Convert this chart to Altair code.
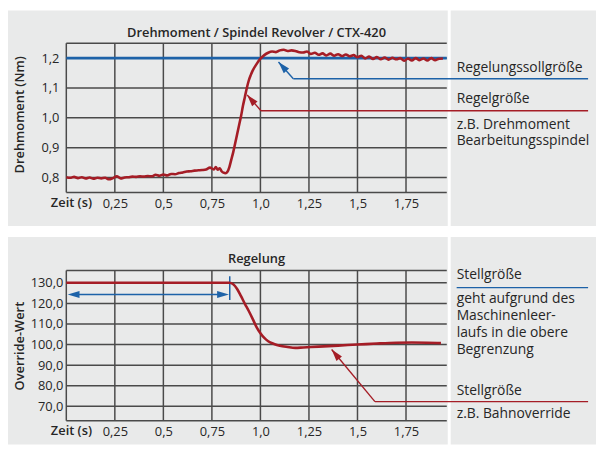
import altair as alt
import pandas as pd

FONT = "Open Sans"
RED = "#a51d26"
BLUE = "#1d62a8"
BG = "#e9eaea"
GRID = "#4a4a4a"
INK = "#262626"

W, H1, H2 = 385, 151, 152
GAP = 79

X_DOMAIN = [0, 1.96]
Y1_DOMAIN = [0.75, 1.25]
Y2_DOMAIN = [63, 136]

# ---------------- data ----------------
x_ticks = [0.25, 0.5, 0.75, 1.0, 1.25, 1.5, 1.75]
x_grid = [0.0] + x_ticks
y1_ticks = [0.8, 0.9, 1.0, 1.1, 1.2]
y1_grid = [0.75] + y1_ticks + [1.25]
y2_ticks = [70, 80, 90, 100, 110, 120, 130]
y2_grid = [63] + y2_ticks + [136]

setpoint = 1.2

t_torque = [
    0.00, 0.02, 0.04, 0.06, 0.08, 0.10, 0.12, 0.14, 0.16, 0.18,
    0.20, 0.22, 0.24, 0.26, 0.28, 0.30, 0.32, 0.34, 0.36, 0.38,
    0.40, 0.42, 0.44, 0.46, 0.48, 0.50, 0.52, 0.54, 0.56, 0.58,
    0.60, 0.62, 0.64, 0.66, 0.68, 0.70, 0.72, 0.74, 0.76, 0.77,
    0.78, 0.79, 0.80, 0.81, 0.82, 0.83, 0.84, 0.85, 0.86, 0.87,
    0.88, 0.89, 0.90, 0.91, 0.92, 0.93, 0.94, 0.95, 0.96, 0.98,
    1.00, 1.02, 1.04, 1.06, 1.08, 1.10, 1.12, 1.14, 1.16, 1.18,
    1.20, 1.22, 1.24, 1.26, 1.28, 1.30, 1.32, 1.34, 1.36, 1.38,
    1.40, 1.42, 1.44, 1.46, 1.48, 1.50, 1.52, 1.54, 1.56, 1.58,
    1.60, 1.62, 1.64, 1.66, 1.68, 1.70, 1.72, 1.74, 1.76, 1.78,
    1.80, 1.82, 1.84, 1.86, 1.88, 1.90, 1.92, 1.94,
]
torque = [
    0.801, 0.799, 0.802, 0.798, 0.801, 0.797, 0.800, 0.796, 0.799, 0.797,
    0.799, 0.794, 0.798, 0.804, 0.797, 0.800, 0.801, 0.803, 0.802, 0.804,
    0.803, 0.805, 0.804, 0.809, 0.806, 0.810, 0.807, 0.812, 0.811, 0.815,
    0.817, 0.820, 0.821, 0.823, 0.824, 0.825, 0.827, 0.833, 0.827, 0.835,
    0.826, 0.831, 0.821, 0.816, 0.814, 0.819, 0.835, 0.860, 0.885, 0.915,
    0.945, 0.975, 1.005, 1.040, 1.070, 1.100, 1.125, 1.143, 1.158, 1.180,
    1.198, 1.210, 1.218, 1.222, 1.220, 1.226, 1.228, 1.224, 1.226, 1.224,
    1.220, 1.219, 1.222, 1.214, 1.218, 1.211, 1.216, 1.209, 1.215, 1.208,
    1.213, 1.207, 1.212, 1.206, 1.210, 1.203, 1.208, 1.199, 1.205, 1.197,
    1.204, 1.196, 1.202, 1.195, 1.201, 1.196, 1.200, 1.191, 1.199, 1.192,
    1.200, 1.193, 1.199, 1.192, 1.200, 1.193, 1.198, 1.199,
]

t_override = [
    0.00, 0.84, 0.86, 0.88, 0.90, 0.92, 0.94, 0.96, 0.98, 1.00,
    1.02, 1.04, 1.07, 1.10, 1.14, 1.18, 1.22, 1.30, 1.40, 1.50,
    1.60, 1.70, 1.78, 1.86, 1.93,
]
override = [
    130.0, 130.0, 129.3, 127.0, 123.5, 119.8, 116.3, 112.5, 108.5, 105.5,
    103.2, 101.6, 100.3, 99.4, 98.8, 98.4, 98.6, 99.0, 99.5, 100.0,
    100.5, 100.9, 101.0, 100.9, 100.7,
]

# blue interval arrow in the lower chart (time span at upper limit)
interval_start = 0.007
interval_end = 0.838
interval_y = 124.3
interval_tick = [121.6, 133.2]

one = pd.DataFrame({"a": [0]})

xs = alt.Scale(domain=X_DOMAIN, nice=False, zero=False)
y1s = alt.Scale(domain=Y1_DOMAIN, nice=False, zero=False)
y2s = alt.Scale(domain=Y2_DOMAIN, nice=False, zero=False)

x_axis = alt.Axis(
    values=x_ticks, title=None, grid=False, domain=False, ticks=False, tickSize=0,
    labelPadding=15, labelBaseline="alphabetic", labelFont=FONT, labelFontSize=13,
    labelColor=INK, labelFlush=False, labelOverlap=False, zindex=1,
    labelExpr="datum.value == 1 ? '1,0' : replace(format(datum.value, '.2~f'), '.', ',')",
)


def y_axis(vals, pad):
    return alt.Axis(
        values=vals, title=None, grid=False, domain=False, ticks=False, tickSize=0,
        labelPadding=pad, labelFont=FONT, labelFontSize=13, labelColor=INK,
        labelOverlap=False, labelFlush=False, zindex=1,
        labelExpr="replace(format(datum.value, '.1f'), '.', ',')",
    )


y1_axis = y_axis(y1_ticks, 7.5)
y2_axis = y_axis(y2_ticks, 3.5)


def rect(x1, x2, y1, y2):
    return alt.Chart(one).mark_rect(color=BG).encode(
        x=alt.value(x1), x2=alt.value(x2), y=alt.value(y1), y2=alt.value(y2))


def label(txt, x, y, size=14, weight="normal", align="left", angle=0,
          baseline="alphabetic", color=INK):
    return alt.Chart(one).mark_text(
        text=txt, font=FONT, fontSize=size, fontWeight=weight, align=align,
        baseline=baseline, angle=angle, color=color,
    ).encode(x=alt.value(x), y=alt.value(y))


def seg(x1, y1, x2, y2, color, w=1.4):
    return alt.Chart(one).mark_rule(color=color, strokeWidth=w).encode(
        x=alt.value(x1), y=alt.value(y1), x2=alt.value(x2), y2=alt.value(y2))


ARROW = "M0,0L-2,-0.6L-2,0.6Z"


def head(x, y, ang, color, size=144):
    return alt.Chart(one).mark_point(
        shape=ARROW, filled=True, size=size, angle=ang, color=color,
        opacity=1, strokeWidth=0,
    ).encode(x=alt.value(x), y=alt.value(y))


def grids(yscale, ygrid, yaxis):
    v = alt.Chart(pd.DataFrame({"g": x_grid})).mark_rule(
        color=GRID, strokeWidth=1.5).encode(x=alt.X("g:Q", scale=xs, axis=x_axis))
    h = alt.Chart(pd.DataFrame({"g": ygrid})).mark_rule(
        color=GRID, strokeWidth=1.5).encode(y=alt.Y("g:Q", scale=yscale, axis=yaxis))
    return [v, h]


# ---------------- top panel ----------------
top_bg = [rect(-59, 386, -33, 185), rect(389, 536, -33, 185)]

sp = alt.Chart(one).mark_rule(color=BLUE, strokeWidth=2.6).encode(
    y=alt.datum(setpoint, scale=y1s, axis=y1_axis))

torque_line = alt.Chart(pd.DataFrame({"t": t_torque, "v": torque})).mark_line(
    color=RED, strokeWidth=2.6, interpolate="monotone").encode(
    x=alt.X("t:Q", scale=xs, axis=x_axis),
    y=alt.Y("v:Q", scale=y1s, axis=y1_axis),
)

top_ann = [
    label("Drehmoment / Spindel Revolver / CTX-420", W / 2, -6.7, size=13,
          weight=600, align="center"),
    label("Drehmoment (Nm)", -47, 72.5, size=13, weight=600, align="center",
          angle=270, baseline="middle"),
    label("Zeit (s)", 26, 166, size=13, weight=600, align="right"),
    label("Regelungssollgröße", 395, 29),
    label("Regelgröße", 395, 61),
    label("z.B. Drehmoment", 395, 87.3),
    label("Bearbeitungsspindel", 395, 103.3),
    seg(214.7, 19, 229.7, 36, BLUE),
    seg(229.7, 36, 528, 36, BLUE),
    head(214.7, 19, 228, BLUE),
    seg(183, 52.3, 197, 68.3, RED),
    seg(197, 68.3, 528, 68.3, RED),
    head(183, 52.3, 229.7, RED),
]

top = alt.layer(*top_bg, *grids(y1s, y1_grid, y1_axis), sp, torque_line,
                *top_ann).properties(width=W, height=H1)

# ---------------- bottom panel ----------------
bot_bg = [rect(-59, 386, -34, 176), rect(389, 536, -34, 176)]

override_line = alt.Chart(pd.DataFrame({"t": t_override, "v": override})).mark_line(
    color=RED, strokeWidth=2.6, interpolate="monotone").encode(
    x=alt.X("t:Q", scale=xs, axis=x_axis),
    y=alt.Y("v:Q", scale=y2s, axis=y2_axis),
)

shaft = alt.Chart(one).mark_rule(color=BLUE, strokeWidth=1.5).encode(
    x=alt.datum(interval_start + 0.03, scale=xs, axis=x_axis),
    x2=alt.datum(interval_end - 0.03),
    y=alt.datum(interval_y, scale=y2s, axis=y2_axis),
)
vtick = alt.Chart(one).mark_rule(color=BLUE, strokeWidth=1.5).encode(
    x=alt.datum(interval_end + 0.004, scale=xs, axis=x_axis),
    y=alt.datum(interval_tick[0], scale=y2s, axis=y2_axis),
    y2=alt.datum(interval_tick[1]),
)


def dhead(xv, ang):
    return alt.Chart(one).mark_point(
        shape=ARROW, filled=True, size=144, angle=ang, color=BLUE,
        opacity=1, strokeWidth=0,
    ).encode(x=alt.datum(xv, scale=xs, axis=x_axis),
             y=alt.datum(interval_y, scale=y2s, axis=y2_axis))


bot_ann = [
    label("Regelung", W / 2, -7.7, size=13, weight=600, align="center"),
    label("Override-Wert", -47, 76.5, size=13, weight=600, align="center",
          angle=270, baseline="middle"),
    label("Zeit (s)", 26, 166, size=13, weight=600, align="right"),
    label("Stellgröße", 395, 8.3),
    seg(395, 17.3, 528, 17.3, BLUE),
    label("geht aufgrund des", 395, 33),
    label("Maschinenleer-", 395, 50),
    label("laufs in die obere", 395, 67.3),
    label("Begrenzung", 395, 84),
    label("Stellgröße", 395, 125.7),
    seg(312.3, 132.7, 528, 132.7, RED),
    seg(268.5, 80, 312.3, 132.7, RED),
    head(268.5, 80, 230.4, RED),
    label("z.B. Bahnoverride", 395, 149.7),
]

bottom = alt.layer(
    *bot_bg, *grids(y2s, y2_grid, y2_axis), shaft, vtick, dhead(interval_start, 180),
    dhead(interval_end, 0), override_line, *bot_ann,
).properties(width=W, height=H2)

chart = alt.vconcat(top, bottom, spacing=GAP, bounds="flush", padding=0).configure_view(
    stroke=None)

chart.save("out.html", embed_options={"renderer": "svg", "actions": False})
